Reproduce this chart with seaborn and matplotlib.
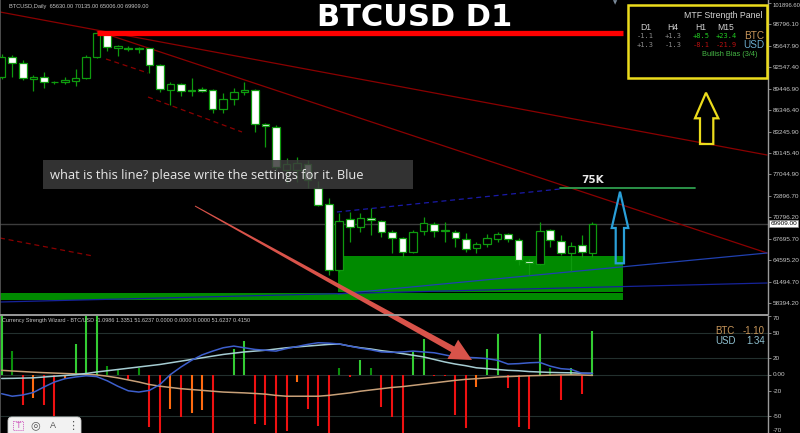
import numpy as np
import pandas as pd
import matplotlib
matplotlib.use("Agg")
import matplotlib.pyplot as plt
import matplotlib.transforms as mtransforms
from matplotlib.patches import Rectangle, Polygon, FancyBboxPatch
import seaborn as sns

# ---------------- data ----------------
opens = [91170, 94020, 93240, 90830, 91120, 90370, 90400, 90590, 90980, 94020,
         97360, 95420, 95420, 95230, 95330, 92910, 89280, 90150, 89140, 89430,
         89280, 86480, 87930, 88990, 89280, 84350, 83870, 77680, 77680, 78550,
         75070, 72750, 63180, 70580, 69460, 70720, 70330, 68650, 67780, 65750,
         68880, 69850, 68880, 68740, 67630, 66330, 66910, 67680, 68360, 67530,
         64490, 64050, 68980, 67390, 65600, 66810, 65630]
highs = [94500, 94360, 93630, 91460, 91850, 90590, 91120, 92330, 94360, 97740,
         97400, 95810, 95660, 95560, 95420, 93050, 90400, 90300, 91070, 89720,
         89430, 88800, 89530, 90400, 89430, 84450, 84210, 79420, 79570, 79130,
         76130, 73620, 71450, 71640, 71490, 72170, 70430, 68980, 68010, 68980,
         70910, 70190, 70100, 68980, 68550, 67290, 68360, 68740, 68500, 67780,
         64780, 70100, 69130, 68260, 67200, 68260, 70135]
lows = [90880, 91210, 90730, 89180, 89530, 90150, 90150, 89900, 90830, 93880,
        94980, 94260, 94940, 94690, 91700, 89040, 87110, 88410, 88410, 88990,
        85990, 85900, 87110, 88560, 83240, 80970, 77680, 75800, 75940, 75070,
        72460, 62460, 62890, 67290, 68740, 68260, 68010, 65650, 65110, 65600,
        68260, 68010, 67290, 66520, 65750, 65600, 66470, 67200, 67200, 63910,
        62460, 63910, 66560, 65360, 63040, 65110, 65006]
closes = [94070, 93240, 90980, 91120, 90400, 90440, 90690, 90980, 94020, 97500,
          95560, 95660, 95180, 95420, 92910, 89380, 90150, 89140, 89280, 89140,
          86480, 87930, 88990, 89280, 84350, 84110, 78070, 78550, 78700, 76230,
          72610, 63180, 70290, 69420, 70720, 70430, 68650, 67780, 65750, 68740,
          70000, 68880, 68900, 67780, 66230, 66910, 67780, 68360, 67630, 64630,
          64150, 68880, 67530, 65600, 66660, 65750, 69909]

price_ticks = [101896.60, 98796.10, 95647.90, 92547.40, 89446.90, 86346.40,
               83245.90, 80145.40, 77044.90, 73896.70, 70796.20, 67695.70,
               64595.20, 61494.70, 58394.20]
last_price = 69909.00
target_level = 75000
red_level = 97500

# histogram of the Currency Strength Wizard
hist_values = [70, 28, -37, -28, -37, -50, -5, 36, 72, 72,
               10, 6, -5, 8, -63, -72, -41, -51, -46, -42,
               -72, 0, 30, 40, -59, -61, -72, -68, -9, -41,
               -62, -72, 8, -3, 17, 8, -39, -51, -72, 27,
               43, -2, -2, -49, -64, -15, 30, 49, -16, -63,
               -65, 48, 8, -30, 8, -23, 52]
hist_kind = ["G", "g", "R", "O", "R", "R", "O", "G", "G", "G",
             "g", "g", "R", "g", "R", "R", "O", "R", "O", "O",
             "R", "R", "G", "G", "R", "R", "R", "R", "O", "R",
             "R", "R", "g", "R", "G", "g", "R", "R", "R", "G",
             "G", "R", "R", "R", "R", "O", "G", "G", "R", "R",
             "R", "G", "g", "R", "G", "R", "G"]
signal_line = [-23, -26, -24.5, -21.5, -15, -9, -5, -3, -1.5, -2.5,
               -7.5, -14, -19.5, -21, -19, -12, 0, 9, 17, 23.5,
               28, 32, 34, 32, 30, 29, 28, 31, 33.5, 36,
               38, 37.5, 36.5, 34, 31.5, 29.5, 27, 26.5, 27, 28,
               27, 26, 23.5, 21, 20.5, 20, 19, 17, 12.5, 13,
               14, 14.5, 10, 7, 6, 1.5, 1.3]
usd_line = [-4.8, -4.6, -4.3, -4, -3, -2, -1.2, -0.2, 1.2, 3,
            4.5, 6, 7.5, 9, 10.5, 12, 14, 16, 18, 20,
            22, 24, 25.5, 27, 28, 29, 30.5, 32, 33, 34,
            35, 36, 36.5, 34, 32, 30.5, 28.5, 27, 25, 23,
            21, 18, 15, 12.5, 10.5, 8, 7, 6, 5, 4.5,
            3.5, 3, 2.5, 2.2, 2, 1.5, 1.34]
btc_line = [5, 4.2, 3.5, 2.8, 2.2, 1.7, 1.2, 0.7, 0.2, -0.5,
            -2, -4, -6.5, -9, -12, -14, -15.5, -17, -18, -19,
            -20, -21, -21.5, -22, -22.7, -23.5, -25, -26, -26, -26,
            -26, -25, -23.5, -22, -20, -18.5, -17, -15.5, -14.5, -13,
            -11.5, -10, -8.5, -7, -5.8, -5, -4, -3, -2.5, -2,
            -1.5, -1.2, -0.8, -0.5, -0.4, -0.6, -1.1]
strength_ticks = [70, 50, 20, 0, -20, -50, -70]
strength_labels = ["70", "50", "20", "0.00", "-20", "-50", "-70"]
strength_levels = [50, 20, 0, -50]

# trend lines drawn on the chart (bar index, price)
red_trend_solid = [(-0.16, 100592, 72.55, 79857), (9.03, 97836, 72.55, 65647)]
red_trend_dashed = [(9.89, 93777, 13.87, 91746), (13.87, 88267, 22.78, 83192),
                    (-0.16, 67822, 8.65, 65212)]
blue_trend_solid = [(31.88, 59702, 72.55, 65647), (-0.16, 58542, 72.55, 61297)]
blue_trend_dashed = [(31.78, 71592, 52.92, 74927)]
green_zone = (31.88, 58.86, 59948, 65212)
green_strip = (-0.16, 58.86, 58904, 59803)
target_span = (52.92, 65.71)
target_label_bar = 56.05
red_span = (9.0, 58.9)

panel_cols = ["D1", "H4", "H1", "M15"]
panel_btc = ["-1.1", "+1.3", "+8.5", "+23.4"]
panel_usd = ["+1.3", "-1.3", "-8.1", "-21.9"]

# ---------------- style ----------------
sns.set_theme(style="dark", rc={"axes.facecolor": "black", "figure.facecolor": "black",
                                "axes.grid": False})
plt.rcParams['font.family'] = ['Liberation Sans', 'DejaVu Sans']

W, H = 800, 433
fig = plt.figure(figsize=(8, 4.33), dpi=100, facecolor="black")
XL = (-0.16, 72.64)
ax = fig.add_axes([0, 119 / H, 768 / W, 314 / H])
ax2 = fig.add_axes([0, 0, 768 / W, 117 / H])
for a in (ax, ax2):
    a.set_facecolor("black")
    a.set_xlim(*XL)
    a.set_xticks([])
    for s in ("top", "bottom"):
        a.spines[s].set_visible(False)
    a.spines["left"].set_color("#5a5a5a")
    a.spines["left"].set_linewidth(1.2)
    a.spines["right"].set_color("#9a9a9a")
    a.spines["right"].set_linewidth(1.0)
    a.yaxis.tick_right()
    a.tick_params(axis="y", colors="#9a9a9a", labelcolor="#c8c8c8", length=2,
                  width=0.6, pad=1.5, labelsize=4.6)

ax.set_ylim(56802, 102332)
ax2.set_ylim(-70, 70)

# price axis
ax.set_yticks(price_ticks)
ax.set_yticklabels([f"{v:.2f}" for v in price_ticks])
top_lab = ax.get_yticklabels()[0]
top_lab.set_va("top")
top_lab.set_fontsize(4.2)
ax2.set_yticks(strength_ticks)
ax2.set_yticklabels(strength_labels)
labs2 = ax2.get_yticklabels()
labs2[0].set_va("top")
labs2[-1].set_va("bottom")

x = np.arange(len(opens))
o = np.array(opens, float); c = np.array(closes, float)
hi = np.array(highs, float); lo = np.array(lows, float)
bull = c >= o
edge = "#0e9a0e"

# green zone and strip
ax.add_patch(Rectangle((green_zone[0], green_zone[2]), green_zone[1] - green_zone[0],
                       green_zone[3] - green_zone[2], color="#008a00", zorder=1, lw=0))
ax.add_patch(Rectangle((green_strip[0], green_strip[2]), green_strip[1] - green_strip[0],
                       green_strip[3] - green_strip[2], color="#008a00", zorder=1, lw=0))

# current price line
ax.axhline(last_price, color="#3c3c3c", lw=1.0, zorder=1)

# trend lines
for x0, y0, x1, y1 in red_trend_solid:
    ax.plot([x0, x1], [y0, y1], color="#8a0000", lw=0.9, zorder=2)
for x0, y0, x1, y1 in red_trend_dashed:
    ax.plot([x0, x1], [y0, y1], color="#8a0000", lw=0.9, ls=(0, (4, 3)), zorder=2)
ax.plot([blue_trend_solid[0][0], blue_trend_solid[0][2]],
        [blue_trend_solid[0][1], blue_trend_solid[0][3]], color="#2040b0", lw=0.9, zorder=2)
ax.plot([blue_trend_solid[1][0], blue_trend_solid[1][2]],
        [blue_trend_solid[1][1], blue_trend_solid[1][3]], color="#16239a", lw=0.9, zorder=2)
for x0, y0, x1, y1 in blue_trend_dashed:
    ax.plot([x0, x1], [y0, y1], color="#1a1aa8", lw=0.9, ls=(0, (4, 3)), zorder=2)

# candles
ax.vlines(x, lo, hi, color=edge, lw=0.9, zorder=3)
ax.bar(x, np.maximum(np.abs(c - o), 30), bottom=np.minimum(o, c), width=0.72,
       color=np.where(bull, "black", "white"), edgecolor=edge, linewidth=0.9, zorder=4)

# horizontal red level and target line
ax.plot(list(red_span), [red_level, red_level], color="#ff0000", lw=3.8,
        solid_capstyle="butt", zorder=5)
ax.plot(list(target_span), [target_level, target_level], color="#2e9e4e", lw=1.3, zorder=5)
ax.text(target_label_bar, target_level + 500, "75K", color="#e8e8e8",
        fontsize=7.5, fontweight="bold", ha="center", va="bottom", zorder=6,
        family=["DejaVu Sans"])

# last price label
ax.text(1.003, last_price, "69909.00", transform=ax.get_yaxis_transform(),
        fontsize=4.6, color="black", ha="left", va="center", clip_on=False, zorder=10,
        bbox=dict(boxstyle="square,pad=0.15", fc="white", ec="#888888", lw=0.5))

# header texts
ax.text(0.012, 0.978, "BTCUSD,Daily  65630.00 70135.00 65006.00 69909.00",
        transform=ax.transAxes, fontsize=4.1, color="#c8c8c8", ha="left", va="center")

# ---------------- lower panel ----------------
for lv in strength_levels:
    ax2.axhline(lv, color="#23302e", lw=0.8, zorder=1)

col_map = {"G": "#33cc33", "g": "#0b8f0b", "R": "#ee1111", "O": "#ff6a10"}
ax2.vlines(x, 0, hist_values, colors=[col_map[k] for k in hist_kind], lw=1.5, zorder=2)

df = pd.DataFrame({"bar": np.tile(x, 3),
                   "value": btc_line + usd_line + signal_line,
                   "series": ["BTC"] * len(x) + ["USD"] * len(x) + ["Signal"] * len(x)})
sns.lineplot(data=df, x="bar", y="value", hue="series", ax=ax2, legend=False,
             palette={"BTC": "#c8a078", "USD": "#a6cdd3", "Signal": "#3d5fcc"},
             lw=1.1, zorder=3)
ax2.set_xlabel(""); ax2.set_ylabel("")
ax2.set_xlim(*XL)

ax2.text(0.003, 0.965, "Currency Strength Wizard - BTC/USD -1.0986 1.3351 51.6237 0.0000 0.0000 0.0000 51.6237 0.4150",
         transform=ax2.transAxes, fontsize=3.95, color="#c8c8c8", ha="left", va="center")

# ---------------- overlays in pixel coordinates ----------------
T = mtransforms.Affine2D().scale(1 / W, -1 / H).translate(0, 1) + fig.transFigure


def ftext(px, py, s, **kw):
    fig.text(px / W, 1 - py / H, s, **kw)


# separator between panes
fig.add_artist(plt.Line2D([0, 768], [315, 315], transform=T, color="#9a9a9a", lw=1.4))

# title
ftext(415, 17, "BTCUSD D1", fontsize=22, fontweight="bold", color="white",
      ha="center", va="center", family=["DejaVu Sans"])

# MTF panel box
fig.add_artist(Rectangle((628, 5), 139, 73, transform=T, fill=False, ec="#ecdc1c", lw=1.8))
ftext(762, 16, "MTF Strength Panel", fontsize=6.3, color="#d4d4d4", ha="right", va="center")
col_x = [645.5, 673, 701, 726]
for cx, hd, vb, vu in zip(col_x, panel_cols, panel_btc, panel_usd):
    ftext(cx, 27, hd, fontsize=6.2, color="#d4d4d4", ha="center", va="center")
    cb = "#22cc22" if vb.startswith("+") and hd in ("H1", "M15") else "#8a8a8a"
    cu = "#b81010" if hd in ("H1", "M15") else "#8a8a8a"
    ftext(cx, 36.3, vb, fontsize=5.0, color=cb, ha="center", va="center", family=["DejaVu Sans Mono"])
    ftext(cx, 44.6, vu, fontsize=5.0, color=cu, ha="center", va="center", family=["DejaVu Sans Mono"])
ftext(764, 36, "BTC", fontsize=7.2, color="#c8965a", ha="right", va="center")
ftext(764, 44.5, "USD", fontsize=7.2, color="#6aaacb", ha="right", va="center")
ftext(730, 54, "Bullish Bias (3/4)", fontsize=5.3, color="#46b846", ha="center", va="center")

# yellow outlined arrow
fig.add_artist(Polygon([(706, 92.7), (718.3, 118.3), (713.3, 118.3), (713.3, 144),
                        (700, 144), (700, 118.3), (695, 118.3)], closed=True,
                       transform=T, fill=False, ec="#ecdc1c", lw=1.6))
# blue outlined arrow
fig.add_artist(Polygon([(620, 191.7), (628.3, 228), (624, 228), (624, 263.3),
                        (615.7, 263.3), (615.7, 228), (611.7, 228)], closed=True,
                       transform=T, fill=False, ec="#2a9fd8", lw=1.6))

# grey question box
fig.add_artist(Rectangle((43, 160), 370, 29, transform=T, fc="#3c3c3c", ec="none", alpha=0.85))
ftext(50, 175, "what is this line? please write the settings for it. Blue", fontsize=9.3,
      color="#e8e8e8", ha="left", va="center", family=["Open Sans", "DejaVu Sans"])

# red pointer arrow
S = np.array([195.0, 206.0]); Tp = np.array([472.0, 360.0])
u = (Tp - S) / np.linalg.norm(Tp - S); n = np.array([-u[1], u[0]])
B = Tp - 22 * u
pts = [S + 0.5 * n, B + 3.2 * n, B + 11 * n, Tp, B - 11 * n, B - 3.2 * n, S - 0.5 * n]
fig.add_artist(Polygon(pts, closed=True, transform=T, fc="#d9534a", ec="none"))

# small shift marker
ftext(615, 3, "▼", fontsize=4, color="#7a8a9a", ha="center", va="center", family=["DejaVu Sans"])

# lower-right strength readout
ftext(715, 331.5, "BTC", fontsize=7, color="#c8965a", ha="left", va="center")
ftext(765, 331.5, "-1.10", fontsize=7, color="#c8965a", ha="right", va="center")
ftext(715, 341.5, "USD", fontsize=7, color="#8fc0d0", ha="left", va="center")
ftext(765, 341.5, "1.34", fontsize=7, color="#8fc0d0", ha="right", va="center")

# screenshot toolbar
fig.add_artist(FancyBboxPatch((8, 417), 73, 22, boxstyle="round,pad=0,rounding_size=4",
                              transform=T, fc="#f2f2f2", ec="#cccccc", lw=0.6))
fig.add_artist(Rectangle((13, 421), 10, 9, transform=T, fill=False, ec="#d060c0",
                         lw=0.6, ls=(0, (1.5, 1))))
ftext(18, 425.5, "T", fontsize=6.5, color="#d060c0", ha="center", va="center")
ftext(35, 425.5, "◎", fontsize=8, color="#555555", ha="center", va="center", family=["DejaVu Sans"])
ftext(53, 426, "A", fontsize=6.5, color="#555555", ha="center", va="center")
ftext(73, 425.5, "⋮", fontsize=8, color="#555555", ha="center", va="center", family=["DejaVu Sans"])

fig.savefig("out.png", dpi=100, facecolor="black")
